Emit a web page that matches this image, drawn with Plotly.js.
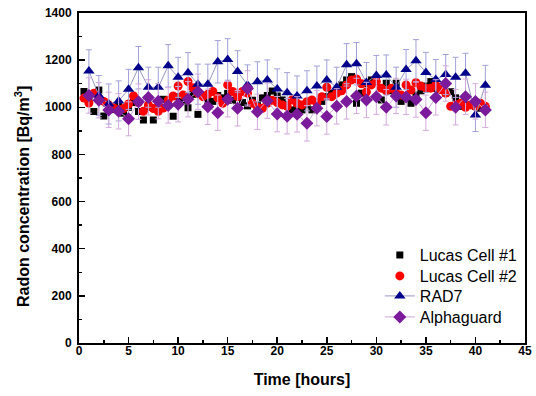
<!DOCTYPE html>
<html>
<head>
<meta charset="utf-8">
<script src="https://cdn.plot.ly/plotly-3.0.1.min.js"></script>
<style>html,body{margin:0;padding:0;background:#fff;}#chart{width:536px;height:396px;}</style>
</head>
<body>
<div id="chart"></div>
<script>
// Time axis (hours)
var hoursHalf = [0.5,1,1.5,2,2.5,3,3.5,4,4.5,5,5.5,6,6.5,7,7.5,8,8.5,9,9.5,10,
  10.5,11,11.5,12,12.5,13,13.5,14,14.5,15,15.5,16,16.5,17,17.5,18,18.5,19,19.5,20,
  20.5,21,21.5,22,22.5,23,23.5,24,24.5,25,25.5,26,26.5,27,27.5,28,28.5,29,29.5,30,
  30.5,31,31.5,32,32.5,33,33.5,34,34.5,35,35.5,36,36.5,37,37.5,38,38.5,39,39.5,40,40.5,41];
var hoursWhole = [1,2,3,4,5,6,7,8,9,10,11,12,13,14,15,16,17,18,19,20,
  21,22,23,24,25,26,27,28,29,30,31,32,33,34,35,36,37,38,39,40,41];

// Lucas Cell #1 (Bq/m3)
var lucas1 = [1067,1040,982,1073,963,1000,990,1010,975,1000,1020,982,946,1000,946,1020,1034,1010,962,1045,
  1030,998,1055,970,1050,1028,1025,1050,1040,1059,1030,1045,1020,1006,1030,1010,1040,1050,1069,1048,
  1031,1010,989,1000,989,1010,989,1000,1025,1045,1059,1070,1095,1116,1130,1017,1060,1100,1116,1116,
  1031,1102,1070,1102,1025,1040,1017,1052,1070,1090,1109,1080,1073,1060,1066,1040,1004,1007,1010,1004,996,990];

// Lucas Cell #2 (Bq/m3)
var lucas2 = [1039,1018,1060,1040,1025,1010,997,990,995,1014,1048,1020,983,1010,995,983,997,1030,1048,1090,
  1052,1109,1083,1060,1045,1055,1067,1040,1017,1095,1067,1045,1067,1060,1017,1000,996,1017,1030,1020,
  1010,1004,1031,1017,1010,1024,1031,1020,1045,1085,1045,1060,1070,1095,1116,1120,1100,1065,1095,1109,
  1081,1070,1081,1060,1052,1095,1073,1104,1090,1081,1081,1095,1075,1060,1004,1010,1017,1000,1010,1004,1017,1004];

// RAD7 (Bq/m3) and its uncertainty
var rad7 = [1154,1050,1014,1027,1076,1168,1085,1085,1176,1127,1147,1098,1098,1193,1203,1152,1095,1108,1116,1078,
  1062,1048,1070,1090,1116,1085,1180,1185,1105,1135,1137,1085,1160,1197,1148,1118,1139,1127,1144,967,1093];
var rad7Err = [90,85,85,85,85,90,85,85,90,85,85,85,85,90,88,88,85,85,85,85,
  85,85,85,85,85,85,90,90,85,85,85,85,85,90,85,85,85,85,85,70,85];

// Alphaguard (Bq/m3) and its uncertainty
var alpha = [1050,1030,989,983,951,1024,1042,1026,1008,1013,1034,1066,1002,977,1034,996,1080,981,1028,971,
  962,970,932,996,961,1004,1025,1048,1031,1045,1000,1048,1044,1033,977,1042,1101,1000,1045,1025,989];
var alphaErr = [75,75,75,75,72,75,75,75,75,75,75,75,75,75,75,75,75,75,75,75,
  75,75,75,75,75,75,75,75,75,75,75,75,75,75,75,75,75,75,75,75,75];

var xTicks = [0,5,10,15,20,25,30,35,40,45];
var yTicks = [0,200,400,600,800,1000,1200,1400];

var FONT = 'Liberation Sans, Arial, Helvetica, sans-serif';

var traces = [
  {name:'Lucas Cell #1', legend:'legend', x:hoursHalf, y:lucas1, mode:'markers', type:'scatter',
   marker:{symbol:'square', size:7, color:'#000000'}},
  {name:'Lucas Cell #2', legend:'legend2', x:hoursHalf, y:lucas2, mode:'markers', type:'scatter',
   marker:{symbol:'circle', size:9, color:'#ff0000'}},
  {name:'RAD7', legend:'legend3', x:hoursWhole, y:rad7, mode:'lines+markers', type:'scatter',
   line:{color:'rgb(150,150,195)', width:1},
   marker:{symbol:'triangle-up', size:10, color:'#00008b'},
   error_y:{type:'data', array:rad7Err, visible:true, color:'rgb(160,160,215)', thickness:1, width:3}},
  {name:'Alphaguard', legend:'legend4', x:hoursWhole, y:alpha, mode:'lines+markers', type:'scatter',
   line:{color:'rgb(205,165,215)', width:1},
   marker:{symbol:'diamond', size:10, color:'#7b1a9a'},
   error_y:{type:'data', array:alphaErr, visible:true, color:'rgb(210,170,220)', thickness:1, width:3}}
];

function leg(y) {
  return {x:0.6745, xanchor:'left', y:y, yanchor:'middle', bgcolor:'rgba(0,0,0,0)',
          font:{family:FONT, size:16, color:'#000'}};
}

var layout = {
  width:536, height:396,
  margin:{l:79, r:11, t:13, b:53},
  paper_bgcolor:'#fff', plot_bgcolor:'#fff',
  font:{family:FONT, color:'#000'},
  showlegend:true,
  legend:leg(0.2667),
  legend2:leg(0.2030),
  legend3:leg(0.1424),
  legend4:leg(0.0788),
  xaxis:{range:[0,45], tickvals:xTicks, ticktext:xTicks.map(String), ticks:'inside', ticklen:6, tickwidth:1.5,
         tickcolor:'#000', ticklabelstandoff:-4,
         minor:{tickvals:[2.5,7.5,12.5,17.5,22.5,27.5,32.5,37.5,42.5], ticks:'inside', ticklen:3, tickwidth:1.5, tickcolor:'#000'},
         showline:true, linecolor:'#000', linewidth:2, mirror:true, showgrid:false, zeroline:false,
         tickfont:{family:FONT, size:12, weight:'bold', color:'#000'},
         title:{text:'<b>Time [hours]</b>', font:{family:FONT, size:16, color:'#000'}, standoff:16}},
  yaxis:{range:[0,1400], tickvals:yTicks, ticktext:yTicks.map(String), ticks:'inside', ticklen:6, tickwidth:1.5,
         tickcolor:'#000', ticklabelstandoff:3,
         minor:{tickvals:[100,300,500,700,900,1100,1300], ticks:'inside', ticklen:3, tickwidth:1.5, tickcolor:'#000'},
         showline:true, linecolor:'#000', linewidth:2, mirror:true, showgrid:false, zeroline:false,
         tickfont:{family:FONT, size:12, weight:'bold', color:'#000'}},
  annotations:[{text:'<b>Radon concentration [Bq/m<sup>3</sup>]</b>', xref:'paper', yref:'paper',
                x:-0.1278, y:0.4424, xanchor:'center', yanchor:'middle', textangle:-90, showarrow:false,
                font:{family:FONT, size:16, color:'#000'}}]
};

Plotly.newPlot('chart', traces, layout, {displayModeBar:false, staticPlot:true});
</script>
</body>
</html>
